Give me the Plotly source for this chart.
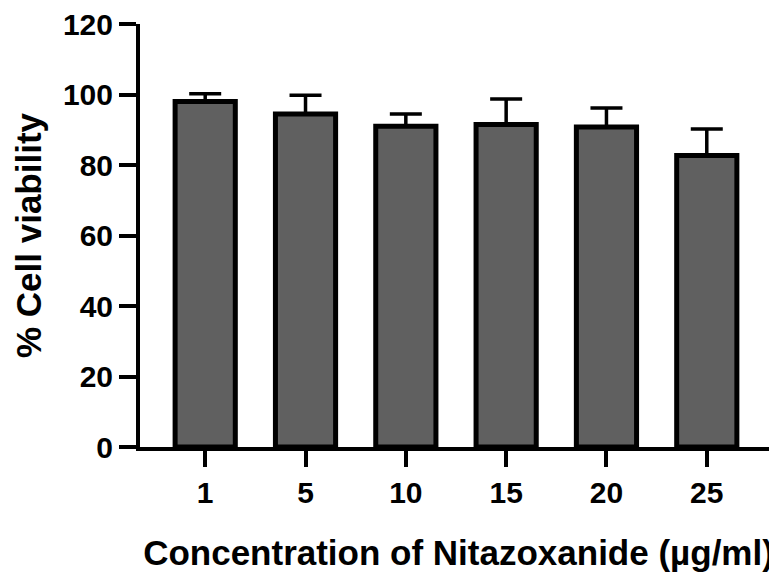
import plotly.graph_objects as go

categories = ["1", "5", "10", "15", "20", "25"]
viability = [98.0, 94.5, 91.0, 91.5, 90.8, 82.7]
sd_upper = [2.2, 5.3, 3.5, 7.2, 5.4, 7.5]
y_ticks = [0, 20, 40, 60, 80, 100, 120]

FONT = "Liberation Sans, Arial, Helvetica, sans-serif"
positions = list(range(len(categories)))

fig = go.Figure()
fig.add_trace(go.Bar(
    x=positions,
    y=viability,
    width=0.6,
    marker=dict(color="#606060", line=dict(color="black", width=5)),
    error_y=dict(type="data", symmetric=False, array=sd_upper,
                 arrayminus=[0] * len(sd_upper),
                 color="black", thickness=3.5, width=16),
))

# page body has an 8px default margin, so the figure is sized to compensate
fig.update_layout(
    width=769, height=568,
    margin=dict(l=132, r=0, t=16, b=129, autoexpand=False),
    plot_bgcolor="white", paper_bgcolor="white",
    showlegend=False,
    font=dict(family=FONT, color="black"),
)
fig.update_xaxes(
    range=[-0.65, 5.7],
    tickvals=positions, ticktext=categories,
    showline=True, linecolor="black", linewidth=4,
    ticks="outside", ticklen=16, tickwidth=4, tickcolor="black",
    ticklabelstandoff=0, ticklabeloverflow="allow",
    tickfont=dict(size=30, weight="bold"),
    showgrid=False, zeroline=False, automargin=False,
    title=dict(text="Concentration of Nitazoxanide (µg/ml)",
               font=dict(size=35, weight="bold"), standoff=33),
)
fig.update_yaxes(
    range=[0, 120],
    tickvals=y_ticks,
    showline=True, linecolor="black", linewidth=4,
    ticks="outside", ticklen=17, tickwidth=4, tickcolor="black",
    ticklabeloverflow="allow",
    tickfont=dict(size=30, weight="bold"),
    showgrid=False, zeroline=False, automargin=False,
    title=dict(text="% Cell viability", font=dict(size=35, weight="bold"),
               standoff=12),
)

fig.write_html("out.html")
